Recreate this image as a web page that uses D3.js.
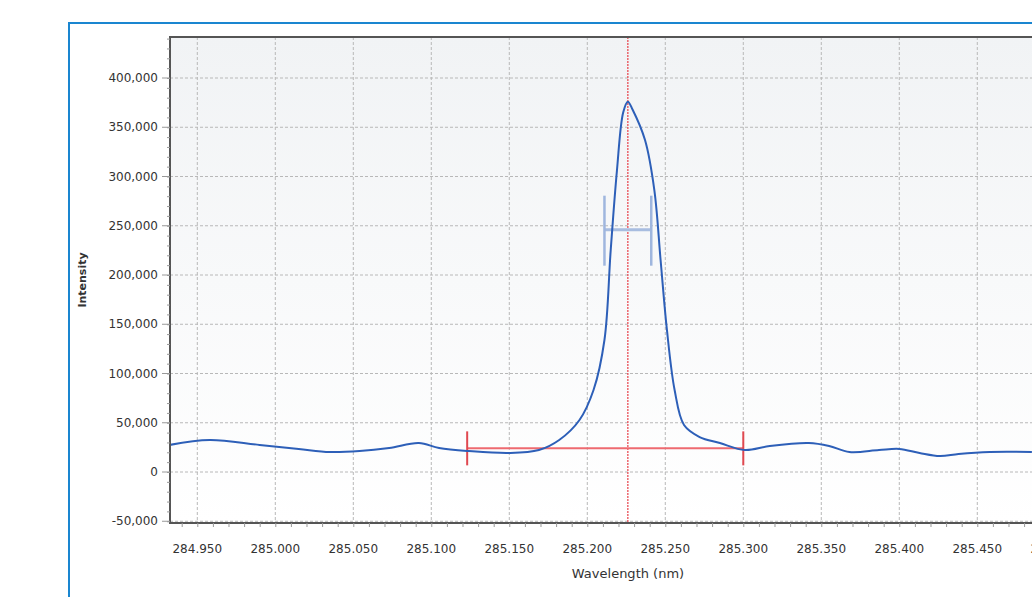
<!DOCTYPE html>
<html><head><meta charset="utf-8">
<script src="https://cdn.jsdelivr.net/npm/d3@7"></script>
<style>body{margin:0;background:#fff;overflow:hidden}svg{display:block}text{font-family:"DejaVu Sans",sans-serif}</style>
</head><body>
<script>
var wavelength = [284.932,284.958,284.990,285.015,285.035,285.054,285.073,285.092,285.105,285.124,285.150,285.169,285.182,285.195,285.204,285.211,285.215,285.219,285.223,285.226,285.229,285.237,285.243,285.247,285.251,285.256,285.262,285.272,285.285,285.301,285.317,285.342,285.355,285.368,285.387,285.400,285.413,285.426,285.438,285.458,285.485];
var intensity = [27400,32500,27400,23400,20300,21300,24400,29400,24400,21300,19300,22300,32500,52800,83200,134000,225000,306000,365000,376000,368000,337000,286000,215000,145000,83000,47700,35500,29400,22300,26400,29400,26400,20300,22300,23400,19300,16200,18300,20300,20300];
var xTicks = [284.95,285.0,285.05,285.1,285.15,285.2,285.25,285.3,285.35,285.4,285.45,285.5];
var yTicks = [-50000,0,50000,100000,150000,200000,250000,300000,350000,400000];
var peakWl = 285.226;
var baseline = {x0: 285.123, x1: 285.300, y: 24000};
var fwhm = {x0: 285.211, x1: 285.241, y: 246000};

var W = 1032, H = 597;
var svg = d3.select("body").append("svg").attr("width", W).attr("height", H);
svg.append("rect").attr("x", 69).attr("y", 23).attr("width", 1000).attr("height", 600)
  .attr("fill", "none").attr("stroke", "#1a86d0").attr("stroke-width", 2);

var pLeft = 170, pTop = 37, pRight = 1040, pBottom = 523;
var x = d3.scaleLinear().domain([284.9325, 285.4902]).range([pLeft, pRight]);
var y = d3.scaleLinear().domain([0, 400000]).range([472, 78]);

var defs = svg.append("defs");
var g = defs.append("linearGradient").attr("id", "bg").attr("x1", 0).attr("y1", 0).attr("x2", 0).attr("y2", 1);
g.append("stop").attr("offset", 0).attr("stop-color", "#f1f3f5");
g.append("stop").attr("offset", 1).attr("stop-color", "#ffffff");
defs.append("clipPath").attr("id", "clip").append("rect")
  .attr("x", pLeft).attr("y", pTop).attr("width", pRight - pLeft).attr("height", pBottom - pTop);

svg.append("rect").attr("x", pLeft).attr("y", pTop).attr("width", pRight - pLeft).attr("height", pBottom - pTop).attr("fill", "url(#bg)");

var plot = svg.append("g").attr("clip-path", "url(#clip)");
plot.selectAll(".vg").data(xTicks).enter().append("line")
  .attr("x1", d => x(d)).attr("x2", d => x(d)).attr("y1", pTop).attr("y2", pBottom)
  .attr("stroke", "#b8b8b8").attr("stroke-dasharray", "3,2");
plot.selectAll(".hg").data(yTicks).enter().append("line")
  .attr("x1", pLeft).attr("x2", pRight).attr("y1", d => y(d)).attr("y2", d => y(d))
  .attr("stroke", "#b8b8b8").attr("stroke-dasharray", "3,2");

// reference lines
plot.append("line").attr("x1", x(peakWl)).attr("x2", x(peakWl)).attr("y1", pTop).attr("y2", pBottom)
  .attr("stroke", "#e8404a").attr("stroke-dasharray", "2,1").attr("stroke-width", 1.2);
plot.append("line").attr("x1", x(baseline.x0)).attr("x2", x(baseline.x1)).attr("y1", y(baseline.y)).attr("y2", y(baseline.y))
  .attr("stroke", "#ee6a70").attr("stroke-width", 2);
[baseline.x0, baseline.x1].forEach(function (v) {
  plot.append("line").attr("x1", x(v)).attr("x2", x(v)).attr("y1", y(baseline.y) - 17).attr("y2", y(baseline.y) + 17)
    .attr("stroke", "#e04850").attr("stroke-width", 2);
});
plot.append("line").attr("x1", x(fwhm.x0)).attr("x2", x(fwhm.x1)).attr("y1", y(fwhm.y)).attr("y2", y(fwhm.y))
  .attr("stroke", "#a8bde0").attr("stroke-width", 3);
[fwhm.x0, fwhm.x1].forEach(function (v) {
  plot.append("line").attr("x1", x(v)).attr("x2", x(v)).attr("y1", y(fwhm.y) - 34).attr("y2", y(fwhm.y) + 36)
    .attr("stroke", "#9fb6de").attr("stroke-width", 2.5);
});

var line = d3.line().x((d, i) => x(wavelength[i])).y(d => y(d)).curve(d3.curveCatmullRom.alpha(0.5));
plot.append("path").datum(intensity).attr("d", line).attr("fill", "none")
  .attr("stroke", "#2d5fb8").attr("stroke-width", 2);

// frame
svg.append("path").attr("d", "M" + pRight + "," + pTop + "H" + pLeft + "V" + pBottom + "H" + pRight)
  .attr("fill", "none").attr("stroke", "#555").attr("stroke-width", 2);

var xa = svg.append("g").attr("transform", "translate(0," + pBottom + ")")
  .call(d3.axisBottom(x).tickValues(d3.range(284.94, 285.49, 0.01)).tickSize(4).tickFormat(""));
xa.select(".domain").remove(); xa.selectAll("line").attr("stroke", "#999");
svg.selectAll(".xl").data(xTicks).enter().append("text")
  .attr("x", d => x(d)).attr("y", 553).attr("text-anchor", "middle").attr("font-size", 12).attr("fill", "#333")
  .text(d => d3.format(".3f")(d));
var ya = svg.append("g").attr("transform", "translate(" + pLeft + ",0)")
  .call(d3.axisLeft(y).tickValues(d3.range(-50000, 450000, 10000)).tickSize(3).tickFormat(""));
ya.select(".domain").remove(); ya.selectAll("line").attr("stroke", "#999");
svg.selectAll(".yl").data(yTicks).enter().append("text")
  .attr("x", 158).attr("y", d => y(d) + 4).attr("text-anchor", "end").attr("font-size", 12).attr("fill", "#333")
  .text(d => d3.format(",")(d).replace("\u2212", "-"));
svg.selectAll(".yt").data(yTicks).enter().append("line")
  .attr("x1", 162).attr("x2", pLeft).attr("y1", d => y(d)).attr("y2", d => y(d)).attr("stroke", "#999");

svg.append("text").attr("x", 628).attr("y", 578).attr("text-anchor", "middle").attr("font-size", 13).attr("fill", "#333").text("Wavelength (nm)");
svg.append("text").attr("transform", "translate(86,280) rotate(-90)").attr("text-anchor", "middle")
  .attr("font-size", 11).attr("font-weight", "bold").attr("fill", "#333").text("Intensity");
</script>
</body></html>
